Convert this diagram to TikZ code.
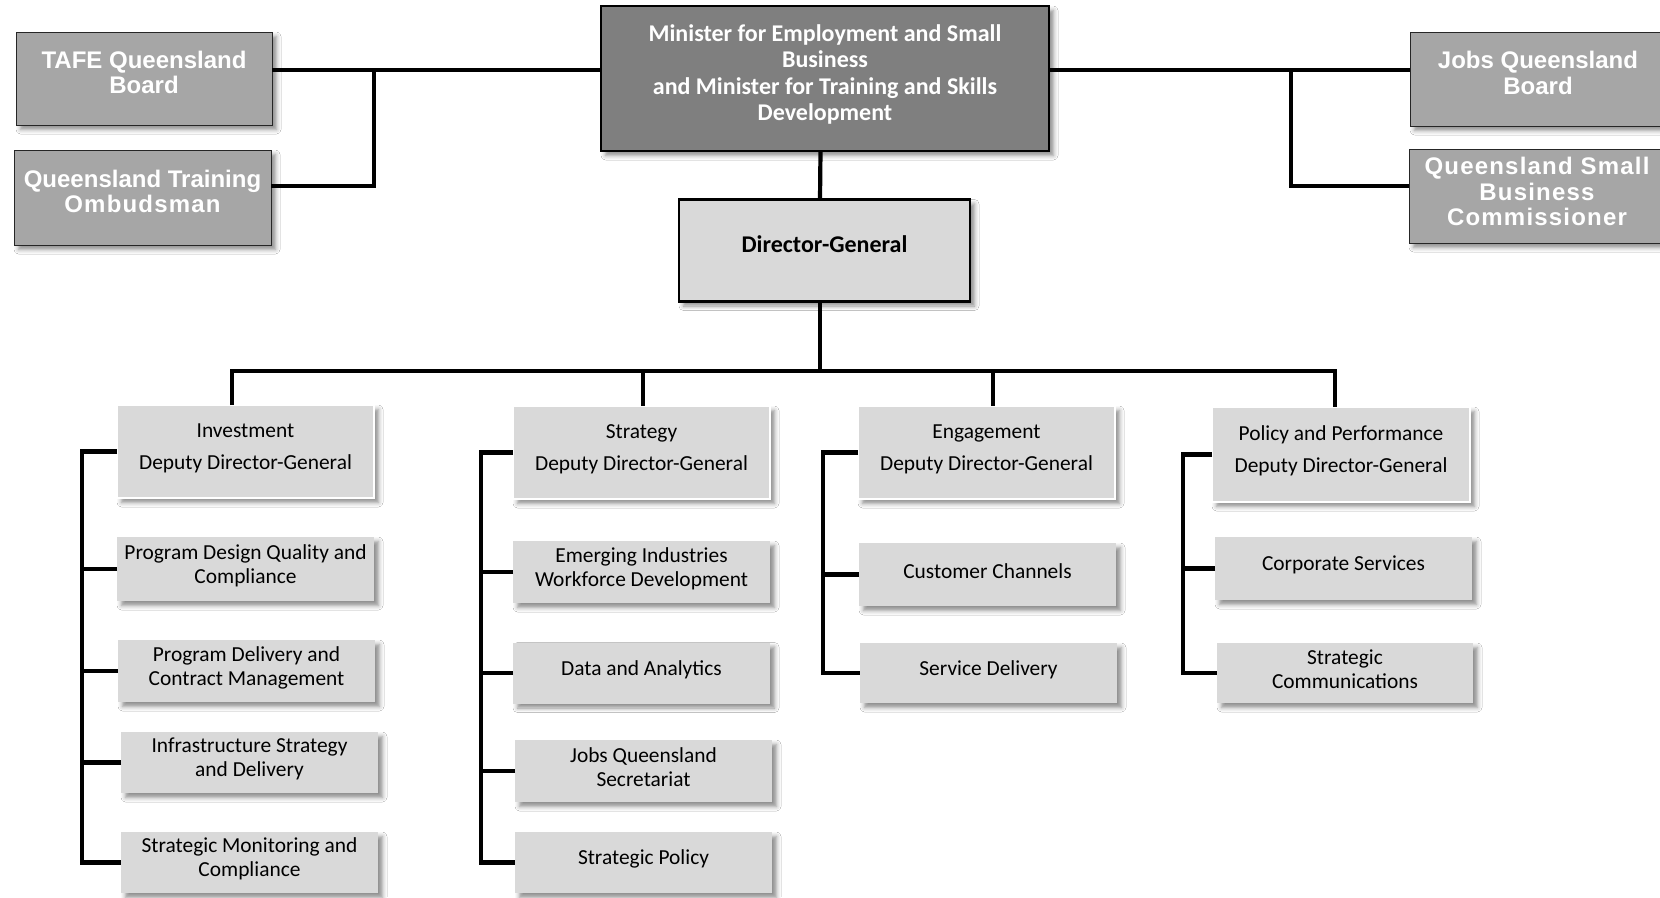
\documentclass[tikz,border=0pt]{standalone}
\usepackage{fontspec}
\setmainfont{Carlito}
\newfontfamily\arialb{Liberation Sans}
\newfontfamily\arialsp[LetterSpace=5]{Liberation Sans}
\usetikzlibrary{shadows.blur}
\definecolor{sidegray}{HTML}{A6A6A6}
\definecolor{mingray}{HTML}{7F7F7F}
\definecolor{boxgray}{HTML}{D9D9D9}
% box node + its text node, text raised slightly above the box centre
\newcommand\orgbox[6]{%
  \node[#2, minimum width=#4pt, minimum height=#5pt] (#1) at (#3) {};
  \node[boxtext] (#1T) at ([yshift=3.5pt]#1.center) {#6};}
\begin{document}
\begin{tikzpicture}[x=1pt,y=-1pt,
  shad/.style={blur shadow={shadow xshift=4.5pt, shadow yshift=-4.5pt, shadow blur radius=4.5pt, shadow opacity=45}},
  sidebox/.style={shad, draw=black!85, line width=0.9pt, fill=sidegray, inner sep=0pt, outer sep=0pt},
  sidetext/.style={text=white, align=center, inner sep=0pt, font=\arialb\bfseries\fontsize{24}{25.5}\selectfont},
  minbox/.style={shad, draw=black, line width=2.4pt, fill=mingray, inner sep=0pt, outer sep=0pt},
  mintext/.style={text=white, align=center, inner sep=0pt, font=\bfseries\fontsize{24}{26.3}\selectfont},
  dgbox/.style={shad, draw=black, line width=2.4pt, fill=boxgray, inner sep=0pt, outer sep=0pt},
  dgtext/.style={inner sep=0pt, font=\bfseries\fontsize{24}{26}\selectfont},
  ddgbox/.style={shad, draw=white, line width=2pt, fill=boxgray, inner sep=0pt, outer sep=0pt},
  unitbox/.style={shad, fill=boxgray, inner sep=0pt, outer sep=0pt},
  boxtext/.style={align=center, inner sep=0pt, font=\fontsize{21.4}{24}\selectfont},
  conn/.style={draw=black, line width=4.2pt, line join=miter}
]
\clip (0,0) rectangle (1660,897);
\fill[white] (0,0) rectangle (1660,897);

% top level
\node[minbox, minimum width=448pt, minimum height=145pt] (min) at (825,78.5) {};
\node[mintext] (minT) at ([yshift=4pt]min.center)
  {Minister for Employment and Small\\Business\\and Minister for Training and Skills\\Development};
\node[sidebox, minimum width=256pt, minimum height=93pt] (tafe) at (144,78.5) {};
\node[sidetext] (tafeT) at ([yshift=6pt]tafe.center) {TAFE Queensland\\Board};
\node[sidebox, minimum width=257pt, minimum height=95pt] (qto) at (142.5,197.5) {};
\node[sidetext] (qtoT) at ([yshift=6pt]qto.center) {Queensland Training\\{\arialsp Ombudsman}};
\node[sidebox, minimum width=256pt, minimum height=94pt] (jqb) at (1538,79) {};
\node[sidetext] (jqbT) at ([yshift=6pt]jqb.center) {Jobs Queensland\\Board};
\node[sidebox, minimum width=256pt, minimum height=94pt] (qsbc) at (1537,196) {};
\node[sidetext] (qsbcT) at ([yshift=4.5pt]qsbc.center) {\arialsp Queensland Small\\\arialsp Business\\\arialsp Commissioner};

\node[dgbox, minimum width=291pt, minimum height=102pt] (dg) at (824.5,250.5) {};
\node[dgtext] (dgT) at ([yshift=6pt]dg.center) {Director-General};

% connectors at top
\coordinate (jl) at (374,70);
\coordinate (jl2) at (374,186);
\coordinate (jr) at (1291,70);
\coordinate (jr2) at (1291,186);
\draw[conn] (tafe.east |- jl) -- (min.west |- jl);
\draw[conn] (jl) -- (jl2) -- (qto.east |- jl2);
\draw[conn] (min.east |- jr) -- (jqb.west |- jr);
\draw[conn] (jr) -- (jr2) -- (qsbc.west |- jr2);
\draw[conn] ([xshift=-4.5pt]min.south) -- ([xshift=-4.5pt]dg.north);

% deputy directors
\orgbox{inv}{ddgbox}{245.5,451.5}{257}{93}{Investment\\[8pt]Deputy Director-General}
\orgbox{str}{ddgbox}{641.5,452.5}{257}{93}{Strategy\\[8pt]Deputy Director-General}
\orgbox{eng}{ddgbox}{986.5,452.5}{257}{93}{Engagement\\[8pt]Deputy Director-General}
\orgbox{pp}{ddgbox}{1341,454.5}{258}{95}{Policy and Performance\\[8pt]Deputy Director-General}

% bus
\coordinate (b1) at (232,371);
\coordinate (b2) at (643,371);
\coordinate (b3) at (993,371);
\coordinate (b4) at (1335,371);
\draw[conn] ([xshift=-4.5pt]dg.south) -- ([xshift=-4.5pt]dg.south |- b1);
\draw[conn] (inv.north -| b1) -- (b1) -- (b4) -- (pp.north -| b4);
\draw[conn] (b2) -- (str.north -| b2);
\draw[conn] (b3) -- (eng.north -| b3);

% column 1
\orgbox{pdqc}{unitbox}{245.5,569}{257}{64}{Program Design Quality and\\Compliance}
\orgbox{pdcm}{unitbox}{246.5,671}{257}{62}{Program Delivery and\\Contract Management}
\orgbox{isd}{unitbox}{249.5,762.5}{257}{61}{Infrastructure Strategy\\and Delivery}
\orgbox{smc}{unitbox}{249.5,862.5}{257}{61}{Strategic Monitoring and\\Compliance}
% column 2
\orgbox{eiwd}{unitbox}{641.5,572}{257}{62}{Emerging Industries\\Workforce Development}
\orgbox{daa}{unitbox}{641.5,673}{257}{61}{Data and Analytics}
\orgbox{jqs}{unitbox}{643.5,771}{257}{62}{Jobs Queensland\\Secretariat}
\orgbox{sp}{unitbox}{643.5,862.5}{257}{61}{Strategic Policy}
% column 3
\orgbox{cc}{unitbox}{987.5,574.5}{257}{63}{Customer Channels}
\orgbox{sd}{unitbox}{988.5,673}{257}{60}{Service Delivery}
% column 4
\orgbox{cs}{unitbox}{1343.5,568.5}{257}{63}{Corporate Services}
\orgbox{sc}{unitbox}{1345,673}{256}{60}{Strategic\\Communications}

% spines
\coordinate (s1) at (82,0);
\coordinate (s2) at (481,0);
\coordinate (s3) at (823,0);
\coordinate (s4) at (1183,0);
\draw[conn] (inv.west) -- (inv.west -| s1) -- (smc.west -| s1) -- (smc.west);
\foreach \n in {pdqc,pdcm,isd} \draw[conn] (\n.west) -- (\n.west -| s1);
\draw[conn] (str.west) -- (str.west -| s2) -- (sp.west -| s2) -- (sp.west);
\foreach \n in {eiwd,daa,jqs} \draw[conn] (\n.west) -- (\n.west -| s2);
\draw[conn] (eng.west) -- (eng.west -| s3) -- (sd.west -| s3) -- (sd.west);
\draw[conn] (cc.west) -- (cc.west -| s3);
\draw[conn] (pp.west) -- (pp.west -| s4) -- (sc.west -| s4) -- (sc.west);
\draw[conn] (cs.west) -- (cs.west -| s4);
\end{tikzpicture}
\end{document}
